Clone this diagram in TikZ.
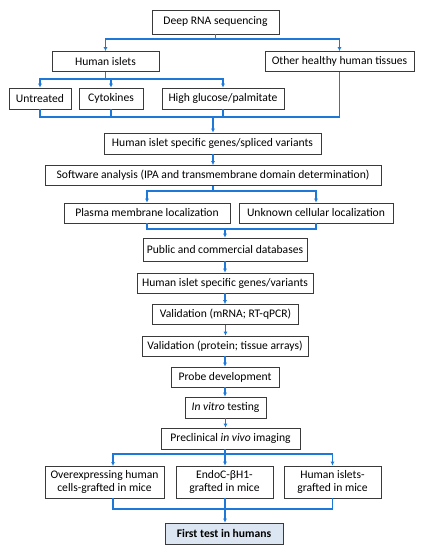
\documentclass[tikz,border=0pt]{standalone}
\usepackage{fontspec}
\setmainfont{Carlito}
\usetikzlibrary{arrows.meta,calc}
\definecolor{flowblue}{HTML}{1E78D7}
\definecolor{boxgray}{HTML}{3A3A3A}
\definecolor{lightfill}{HTML}{DCE6F2}
\tikzset{
  box/.style={draw=boxgray, line width=0.8pt, fill=white, inner sep=1pt, align=center,
    font=\fontsize{11.6}{13.8}\selectfont},
  conn/.style={draw=flowblue, line width=1.3pt, -{Latex[length=4pt,width=4pt]}},
  link/.style={draw=flowblue, line width=1.3pt},
}
\begin{document}
\begin{tikzpicture}[x=1pt,y=-1pt]
\useasboundingbox (0,0) rectangle (426,550);
\fill[white] (0,0) rectangle (426,550);
% nodes
\node[box, minimum width=127pt, minimum height=24pt] (deep) at (215.5,22) {Deep RNA sequencing};
\node[box, minimum width=107pt, minimum height=20pt] (islets) at (105.5,61.5) {Human islets};
\node[box, minimum width=149pt, minimum height=20pt] (other) at (339.5,61.5) {Other healthy human tissues};
\node[box, minimum width=62pt, minimum height=21pt] (untr) at (40,98.5) {Untreated};
\node[box, minimum width=64pt, minimum height=21pt] (cyto) at (111,98.5) {Cytokines};
\node[box, minimum width=122pt, minimum height=21pt] (highg) at (223,98.5) {High glucose/palmitate};
\node[box, minimum width=217pt, minimum height=21pt] (spec1) at (212.5,143.5) {Human islet specific genes/spliced variants};
\node[box, minimum width=336pt, minimum height=20pt] (soft) at (213,175.5) {Software analysis (IPA and transmembrane domain determination)};
\node[box, minimum width=166pt, minimum height=20pt] (plasma) at (147,213) {Plasma membrane localization};
\node[box, minimum width=154pt, minimum height=20pt] (unkn) at (316,213) {Unknown cellular localization};
\node[box, minimum width=164pt, minimum height=23pt] (public) at (225,249.5) {Public and commercial databases};
\node[box, minimum width=176pt, minimum height=20pt] (spec2) at (225,283) {Human islet specific genes/variants};
\node[box, minimum width=146pt, minimum height=20pt] (val1) at (225.5,314.5) {Validation (mRNA; RT-qPCR)};
\node[box, minimum width=166pt, minimum height=20pt] (val2) at (225,346) {Validation (protein; tissue arrays)};
\node[box, minimum width=108pt, minimum height=20pt] (probe) at (225,377) {Probe development};
\node[box, minimum width=81pt, minimum height=21pt] (vitro) at (225.5,407.5) {\textit{In vitro} testing};
\node[box, minimum width=139pt, minimum height=21pt] (precl) at (230.5,438.5) {Preclinical \textit{in vivo} imaging};
\node[box, minimum width=119pt, minimum height=32pt] (over) at (104.5,482) {Overexpressing human\\cells-grafted in mice};
\node[box, minimum width=97pt, minimum height=32pt] (endo) at (224.5,482) {EndoC-βH1-\\grafted in mice};
\node[box, minimum width=97pt, minimum height=32pt] (humisl) at (332.5,482) {Human islets-\\grafted in mice};
\node[box, fill=lightfill, minimum width=118pt, minimum height=21pt, font=\fontsize{11.6}{13.8}\selectfont\bfseries] (first) at (224,533.5) {First test in humans};
% junction coordinates
\coordinate (j0) at (215.5,39);
\coordinate (j1) at (105.5,79);
\coordinate (m1) at (213,117);
\coordinate (j2) at (213,191);
\coordinate (m2) at (225,229);
\coordinate (j4) at (225,454);
\coordinate (m4) at (225,509);
\coordinate (overin) at (113,466);
% connectors
\draw[link] (deep.south) -- (j0);
\draw[conn] (j0) -| (islets.north);
\draw[conn] (j0) -| (other.north);
\draw[link] (islets.south) -- (j1);
\draw[conn] (j1) -| (untr.north);
\draw[conn] (j1) -| (cyto.north);
\draw[conn] (j1) -| (highg.north);
\draw[link] (untr.south) |- (m1);
\draw[link] (cyto.south) |- (m1);
\draw[link] (highg.south) |- (m1);
\draw[link] (other.south) |- (m1);
\draw[conn] (m1) -- (m1 |- spec1.north);
\draw[conn] (spec1.south -| m1) -- (m1 |- soft.north);
\draw[link] (soft.south -| j2) -- (j2);
\draw[conn] (j2) -| (plasma.north);
\draw[conn] (j2) -| (unkn.north);
\draw[link] (plasma.south) |- (m2);
\draw[link] (unkn.south) |- (m2);
\draw[conn] (m2) -- (public.north);
\draw[conn] (public.south) -- (public.south |- spec2.north);
\draw[conn] (spec2.south) -- (spec2.south |- val1.north);
\draw[conn] (val1.south) -- (val1.south |- val2.north);
\draw[conn] (val2.south) -- (val2.south |- probe.north);
\draw[conn] (probe.south) -- (probe.south |- vitro.north);
\draw[conn] (vitro.south) -- (vitro.south |- precl.north);
\draw[link] (precl.south -| j4) -- (j4);
\draw[conn] (j4) -| (overin);
\draw[conn] (j4) -- (j4 |- endo.north);
\draw[conn] (j4) -| (humisl.north);
\draw[link] (overin |- over.south) |- (m4);
\draw[link] (endo.south -| m4) -- (m4);
\draw[link] (humisl.south) |- (m4);
\draw[conn] (m4) -- (m4 |- first.north);
\end{tikzpicture}
\end{document}
